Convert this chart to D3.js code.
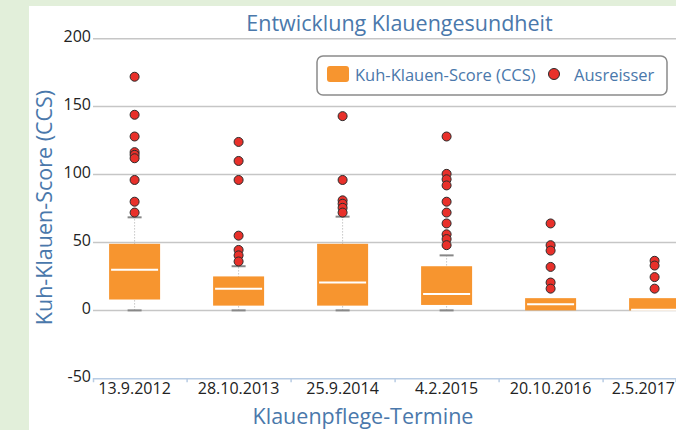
<!DOCTYPE html>
<html>
<head>
<meta charset="utf-8">
<script src="https://cdn.jsdelivr.net/npm/d3@7"></script>
<style>
  body { margin: 0; background: #e2efda; }
  svg { display: block; font-family: "Open Sans", sans-serif; }
</style>
</head>
<body>
<div id="chart"></div>
<script>
// Data
const categories = ["13.9.2012", "28.10.2013", "25.9.2014", "4.2.2015", "20.10.2016", "2.5.2017"];
const whiskerLow = [0, 0, 0, 0, 0, 0];
const q1 = [8, 3.5, 3.5, 4, 0, 0];
const median = [30, 16, 20.5, 12, 4.5, 0.5];
const q3 = [49, 25, 49, 32.5, 9, 9];
const whiskerHigh = [68.5, 32.5, 69, 40.5, 9, 9];
const outliers = [
    [172, 144, 128, 116.5, 114.5, 112, 96, 80, 72],
    [124, 110, 96, 55, 44.5, 40.5, 36],
    [143, 96, 81, 78.5, 75.5, 72],
    [128, 100.5, 96.5, 92, 80, 72, 64, 56, 52.5, 48],
    [64, 48, 44, 32, 20.5, 16],
    [36.5, 33, 24.5, 16]
];
const yTicks = [-50, 0, 50, 100, 150, 200];

const W = 676, H = 430;
const blue = "#4a78ab";

window.onload = function () {
    const svg = d3.select('#chart')
        .append('svg')
        .attr('width', W)
        .attr('height', H);

    // white panel
    svg.append('rect')
        .attr('x', 29).attr('y', 6)
        .attr('width', W - 29).attr('height', H - 6)
        .attr('fill', 'white');

    const x = d3.scaleLinear().domain([-0.4, 5.2]).range([93, 675.4]);
    const y = d3.scaleLinear().domain([-50, 200]).range([378.3, 38.7]);
    const boxW = 51;

    // gridlines (not for -50, that is the axis)
    svg.append('g')
        .selectAll('line')
        .data(yTicks.filter(d => d > -50))
        .join('line')
        .attr('x1', x.range()[0]).attr('x2', W)
        .attr('y1', d => y(d)).attr('y2', d => y(d))
        .attr('stroke', '#c6c6c6')
        .attr('stroke-width', 1.5);

    // y tick labels
    svg.append('g')
        .selectAll('text')
        .data(yTicks)
        .join('text')
        .attr('x', 91)
        .attr('y', d => y(d) - 2)
        .attr('dy', '0.35em')
        .attr('text-anchor', 'end')
        .attr('font-size', 16)
        .attr('fill', '#222')
        .text(d => d);

    // x axis
    const xAxis = d3.axisBottom(x)
        .tickValues(d3.range(0.5, 5.5, 1))
        .tickSize(4)
        .tickFormat('');
    const gx = svg.append('g')
        .attr('transform', `translate(0,${y(-50)})`)
        .call(xAxis);
    gx.select('.domain').attr('stroke', '#b8cce4').attr('stroke-width', 1.5);
    gx.selectAll('.tick line').attr('stroke', '#b8cce4').attr('stroke-width', 1.5);

    // category labels, the last one pushed left so it is not cut
    svg.append('g')
        .selectAll('text')
        .data(categories)
        .join('text')
        .attr('x', (d, i) => x(i))
        .attr('y', 394)
        .attr('text-anchor', 'middle')
        .attr('font-size', 16)
        .attr('fill', '#222')
        .text(d => d)
        .each(function (d, i) {
            const half = this.getComputedTextLength() / 2;
            if (x(i) + half > W - 1) d3.select(this).attr('x', W - 1 - half);
        });

    const boxes = svg.append('g')
        .selectAll('g')
        .data(categories)
        .join('g');

    // whiskers (dotted) and caps, only where they reach past the box
    boxes.filter((d, i) => whiskerHigh[i] > q3[i]).each(function (d, i) {
        const g = d3.select(this);
        const k = categories.indexOf(d);
        g.append('line')
            .attr('x1', x(k)).attr('x2', x(k))
            .attr('y1', y(whiskerLow[k])).attr('y2', y(whiskerHigh[k]))
            .attr('stroke', '#aaa')
            .attr('stroke-dasharray', '1,2');
        g.append('line')
            .attr('x1', x(k) - 7).attr('x2', x(k) + 7)
            .attr('y1', y(whiskerHigh[k])).attr('y2', y(whiskerHigh[k]))
            .attr('stroke', '#888').attr('stroke-width', 2);
    });
    boxes.filter((d, i) => whiskerLow[i] < q1[i])
        .append('line')
        .attr('x1', d => x(categories.indexOf(d)) - 7)
        .attr('x2', d => x(categories.indexOf(d)) + 7)
        .attr('y1', d => y(whiskerLow[categories.indexOf(d)]))
        .attr('y2', d => y(whiskerLow[categories.indexOf(d)]))
        .attr('stroke', '#888').attr('stroke-width', 2);

    // boxes
    boxes.append('rect')
        .attr('x', (d, i) => x(i) - boxW / 2)
        .attr('y', (d, i) => y(q3[i]))
        .attr('width', boxW)
        .attr('height', (d, i) => y(q1[i]) - y(q3[i]))
        .attr('fill', '#f7952f');
    // median
    boxes.append('line')
        .attr('x1', (d, i) => x(i) - boxW / 2 + 2).attr('x2', (d, i) => x(i) + boxW / 2 - 2)
        .attr('y1', (d, i) => y(median[i])).attr('y2', (d, i) => y(median[i]))
        .attr('stroke', 'white').attr('stroke-width', 2);

    // outliers
    boxes.each(function (d, i) {
        d3.select(this).selectAll('circle')
            .data(outliers[i])
            .join('circle')
            .attr('cx', x(i))
            .attr('cy', v => y(v))
            .attr('r', 4.5)
            .attr('fill', '#e8302a')
            .attr('stroke', '#2b2b2b')
            .attr('stroke-width', 1);
    });

    // title
    svg.append('text')
        .attr('x', 399.5).attr('y', 31)
        .attr('text-anchor', 'middle')
        .attr('font-size', 21.5)
        .attr('fill', blue)
        .text('Entwicklung Klauengesundheit');

    // axis titles
    svg.append('text')
        .attr('x', 363).attr('y', 423.5)
        .attr('text-anchor', 'middle')
        .attr('font-size', 21.5)
        .attr('fill', blue)
        .text('Klauenpflege-Termine');
    svg.append('text')
        .attr('transform', 'translate(51.5,207.5) rotate(-90)')
        .attr('text-anchor', 'middle')
        .attr('font-size', 21.5)
        .attr('fill', blue)
        .text('Kuh-Klauen-Score (CCS)');

    // legend
    const legend = svg.append('g');
    legend.append('rect')
        .attr('x', 317).attr('y', 56)
        .attr('width', 350).attr('height', 39)
        .attr('rx', 6)
        .attr('fill', 'white')
        .attr('stroke', '#8a8a8a')
        .attr('stroke-width', 1.5);
    legend.append('rect')
        .attr('x', 327).attr('y', 66)
        .attr('width', 22).attr('height', 16)
        .attr('rx', 3)
        .attr('fill', '#f7952f');
    legend.append('text')
        .attr('x', 355).attr('y', 81)
        .attr('font-size', 16.5)
        .attr('fill', blue)
        .text('Kuh-Klauen-Score (CCS)');
    legend.append('circle')
        .attr('cx', 554).attr('cy', 74)
        .attr('r', 5.5)
        .attr('fill', '#e8302a')
        .attr('stroke', '#2b2b2b')
        .attr('stroke-width', 1);
    legend.append('text')
        .attr('x', 574).attr('y', 81)
        .attr('font-size', 16.5)
        .attr('fill', blue)
        .text('Ausreisser');
};
</script>
</body>
</html>
